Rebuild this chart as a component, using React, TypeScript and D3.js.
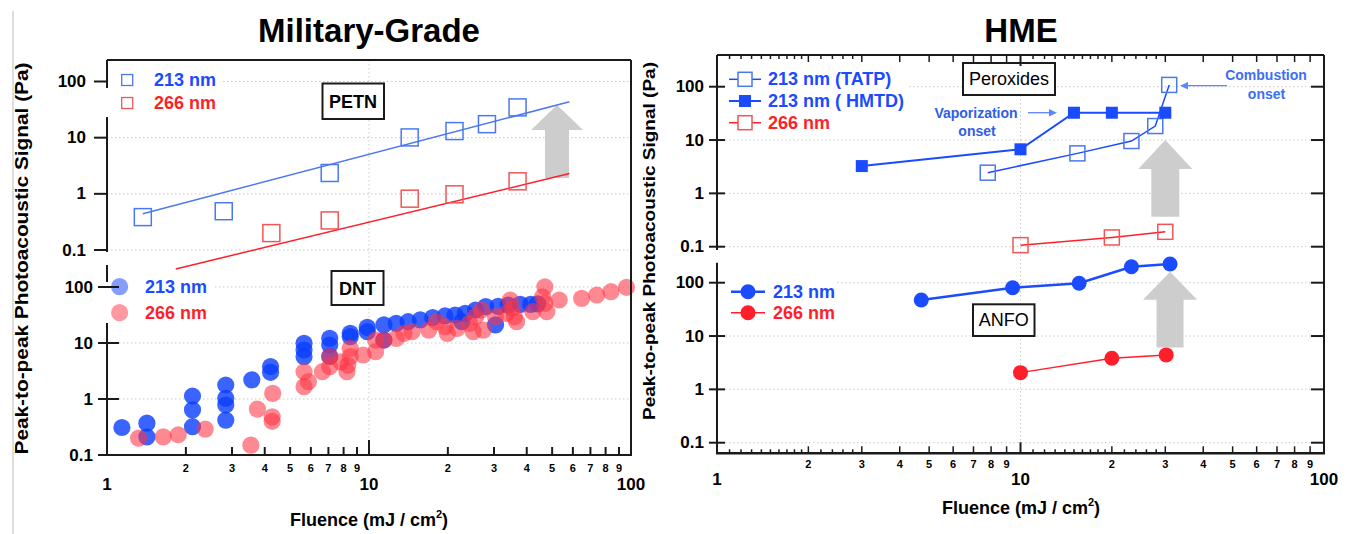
import React from 'react';
import * as d3 from 'd3';

const FONT = '"Liberation Sans", Arial, Helvetica, sans-serif';

const BLUE = '#1a4bff';
const BLUE_SOFT = '#4a78f2';
const RED = '#ff1f2a';
const RED_SOFT = '#f25555';
const GRID = '#c9c9c9';
const AXIS = '#1a1a1a';
const ARROW_GRAY = '#cdcdcd';

// ---------- Military-grade: PETN (open squares) ----------
const petnX213 = [1.37, 2.79, 7.08, 14.3, 21.2, 28.2, 36.9];
const petnY213 = [0.385, 0.49, 2.35, 10.1, 13.1, 17.4, 34.6];
const petnX266 = [4.24, 7.08, 14.3, 21.2, 36.9];
const petnY266 = [0.2, 0.336, 0.82, 0.98, 1.67];
// power-law fit lines, end points [fluence, signal]
const petnFit213: [number, number][] = [[1.37, 0.443], [58.2, 43.6]];
const petnFit266: [number, number][] = [[1.83, 0.046], [58.2, 2.3]];

// ---------- Military-grade: DNT (translucent circles) ----------
const dnt213: [number, number][] = [
  [1.14, 0.31], [1.42, 0.37], [1.42, 0.21], [2.12, 1.13], [2.12, 0.64], [2.12, 0.32],
  [2.84, 1.78], [2.84, 1.03], [2.84, 0.78], [2.84, 0.42], [3.57, 2.2], [4.21, 3.8],
  [4.21, 3.0], [5.65, 9.9], [5.65, 7.5], [5.65, 5.7], [7.08, 12.1], [7.08, 9.2],
  [7.08, 5.8], [8.48, 14.9], [8.48, 13.0], [9.85, 19], [9.85, 15.9], [11.4, 21],
  [11.4, 11.3], [12.7, 22.4], [14.1, 24], [15.7, 25.8], [17.5, 28.3], [19.5, 30.4],
  [21.3, 31.6], [22.6, 24], [23.3, 33.9], [25.5, 38.8], [27.9, 44.6], [30.4, 21],
  [31.1, 45], [34, 47.7], [37.8, 49], [41.4, 49], [44, 50],
];
const dnt266: [number, number][] = [
  [1.32, 0.2], [1.64, 0.21], [1.87, 0.23], [2.37, 0.29], [3.54, 0.15], [3.75, 0.66],
  [4.29, 1.26], [4.27, 0.48], [4.27, 0.4], [5.65, 1.66], [5.87, 2.04], [5.65, 3.07],
  [6.64, 3.07], [7.08, 3.77], [7.08, 5.7], [7.8, 4.6], [8.24, 3.07], [8.3, 4.05],
  [8.48, 8.0], [8.48, 5.7], [9.5, 6.1], [10.6, 7.0], [10.6, 11.3], [11.4, 11.3],
  [12.7, 12.1], [13.6, 14.9], [14.6, 15.9], [16.9, 17], [18.1, 24], [19.5, 19.6],
  [19.9, 14.9], [21.7, 18.3], [24.2, 22.4], [25, 16], [25.5, 29.5], [26.9, 38.8],
  [27.3, 17], [30.4, 29.5], [33.4, 33.9], [34.6, 58.6], [35.2, 41.6], [35.9, 29.5],
  [36.6, 24], [42.2, 36.2], [46.9, 101], [46.0, 67], [46.9, 51], [47.7, 36.2],
  [53.2, 58.6], [64.8, 62.8], [74, 72], [83.9, 82.4], [96.1, 98.8],
];

// ---------- HME: peroxides ----------
const tatpX = [7.8, 15.4, 23.2, 27.8, 30.9];
const tatpY = [2.44, 5.62, 9.58, 18.3, 108];
const hmtdX = [3, 10, 15, 20, 30];
const hmtdY = [3.25, 6.7, 32.5, 32.5, 32.5];
const perox266X = [10, 20, 30];
const perox266Y = [0.107, 0.149, 0.19];

// ---------- HME: ANFO ----------
const anfo213X = [4.71, 9.42, 15.6, 23.2, 31.1];
const anfo213Y = [47.4, 80.6, 97.5, 199, 224];
const anfo266X = [10, 20, 30.2];
const anfo266Y = [2.06, 3.84, 4.43];

// ---------- axis ticks ----------
const decades = [0.1, 1, 10, 100];
const decadeLabels = ['0.1', '1', '10', '100'];
const majorX = [1, 10, 100];
const majorXLabels = ['1', '10', '100'];
const minorX = [2, 3, 4, 5, 6, 7, 8, 9, 20, 30, 40, 50, 60, 70, 80, 90];
const minorXLabels = ['2', '3', '4', '5', '6', '7', '8', '9', '2', '3', '4', '5', '6', '7', '8', '9'];
const fineX = [1.1, 1.2, 1.3, 1.4, 1.5, 1.6, 1.7, 1.8, 1.9, 2.2, 2.4, 2.6, 2.8,
  11, 12, 13, 14, 15, 16, 17, 18, 19, 22, 24, 26, 28];

// gray "increase" arrows: fluence position, tip and tail signal
const petnArrow = { x: 52.2, tip: 38.2, tail: 1.91 };
const peroxArrow = { x: 30.0, tip: 10, tail: 0.365 };
const anfoArrow = { x: 31.1, tip: 161, tail: 6.07 };

function arrowPath(cx: number, yTip: number, yTail: number, headLen: number, headHalf: number, shaftHalf: number) {
  const yb = yTip + headLen;
  return [
    [cx, yTip], [cx + headHalf, yb], [cx + shaftHalf, yb], [cx + shaftHalf, yTail],
    [cx - shaftHalf, yTail], [cx - shaftHalf, yb], [cx - headHalf, yb],
  ].map((p) => p.join(',')).join(' ');
}

function zip(xs: number[], ys: number[]): [number, number][] {
  return xs.map((x, i) => [x, ys[i]]);
}

export default function App() {
  const xL = d3.scaleLog().domain([1, 100]).range([107, 631]);
  const yLT = d3.scaleLog().domain([0.1, 100]).range([250, 81.5]);
  const yLB = d3.scaleLog().domain([0.1, 100]).range([455, 287]);
  const xR = d3.scaleLog().domain([1, 100]).range([717, 1324]);
  const yRT = d3.scaleLog().domain([0.1, 100]).range([246.7, 86.7]);
  const yRB = d3.scaleLog().domain([0.1, 100]).range([442.7, 282.7]);

  const L = { left: 107, right: 631, top: 60, upperEnd: 252, lowerStart: 265, bottom: 455 };
  const R = { left: 717, right: 1324, top: 55, upperEnd: 250, lowerStart: 262.7, bottom: 453.3 };

  const lineLT = d3.line<[number, number]>().x((d) => xL(d[0])).y((d) => yLT(d[1]));
  const lineRT = d3.line<[number, number]>().x((d) => xR(d[0])).y((d) => yRT(d[1]));
  const lineRB = d3.line<[number, number]>().x((d) => xR(d[0])).y((d) => yRB(d[1]));

  const gridStyle = { stroke: GRID, strokeWidth: 1, strokeDasharray: '1.5,2.5' };
  const frame = { stroke: AXIS, strokeWidth: 2, fill: 'none' };

  const sqL = 17; // PETN square size
  const sqR = 15; // open square size (HME)
  const sqF = 12; // filled square size (HMTD)
  const dotR = 8.6; // DNT circle radius

  return (
    <svg width={1355} height={534} style={{ position: 'absolute', left: 0, top: 0, background: '#fff' }} fontFamily={FONT}>
      <rect x={0} y={0} width={1355} height={534} fill="#fff" />
      <line x1={13} y1={11} x2={13} y2={534} stroke="#dedede" strokeWidth={2} />

      {/* ===================== Military-Grade ===================== */}
      <text x={369} y={42} textAnchor="middle" fontSize={33} fontWeight="bold" fill="#000">Military-Grade</text>

      {/* grid */}
      {decades.map((d) => (
        <line key={'glt' + d} x1={L.left} x2={L.right} y1={yLT(d)} y2={yLT(d)} {...gridStyle} />
      ))}
      {decades.slice(1).map((d) => (
        <line key={'glb' + d} x1={L.left} x2={L.right} y1={yLB(d)} y2={yLB(d)} {...gridStyle} />
      ))}
      <line x1={xL(10)} x2={xL(10)} y1={L.top} y2={L.bottom} {...gridStyle} />

      {/* PETN */}
      <polygon points={arrowPath(xL(petnArrow.x), yLT(petnArrow.tip), yLT(petnArrow.tail), 25, 26, 12)} fill={ARROW_GRAY} />
      <path d={lineLT(petnFit213) || ''} stroke={BLUE_SOFT} strokeWidth={1.5} fill="none" />
      <path d={lineLT(petnFit266) || ''} stroke={RED} strokeWidth={1.5} fill="none" />
      {zip(petnX213, petnY213).map((d, i) => (
        <rect key={'p2' + i} x={xL(d[0]) - sqL / 2} y={yLT(d[1]) - sqL / 2} width={sqL} height={sqL}
          fill="none" stroke={BLUE_SOFT} strokeWidth={1.5} />
      ))}
      {zip(petnX266, petnY266).map((d, i) => (
        <rect key={'p6' + i} x={xL(d[0]) - sqL / 2} y={yLT(d[1]) - sqL / 2} width={sqL} height={sqL}
          fill="none" stroke={RED_SOFT} strokeWidth={1.5} />
      ))}

      {/* DNT */}
      {dnt213.map((d, i) => (
        <circle key={'d2' + i} cx={xL(d[0])} cy={yLB(d[1])} r={dotR} fill="#0a3dff" fillOpacity={0.8} />
      ))}
      {dnt266.map((d, i) => (
        <circle key={'d6' + i} cx={xL(d[0])} cy={yLB(d[1])} r={dotR} fill="#ff3344" fillOpacity={0.58} />
      ))}

      {/* legends */}
      <rect x={100} y={88} width={122} height={29} fill="#fff" />
      <rect x={109} y={66} width={113} height={24} fill="#fff" />
      <rect x={121.7} y={74.5} width={11} height={11} fill="none" stroke={BLUE_SOFT} strokeWidth={1.3} />
      <rect x={121.7} y={97.5} width={11} height={11} fill="none" stroke={RED_SOFT} strokeWidth={1.3} />
      <text x={154} y={80} dominantBaseline="central" fontSize={18} fontWeight="bold" fill={BLUE}>213 nm</text>
      <text x={154} y={103} dominantBaseline="central" fontSize={18} fontWeight="bold" fill={RED}>266 nm</text>

      <rect x={100} y={280} width={114} height={43} fill="#fff" />
      <circle cx={119.6} cy={286.7} r={dotR} fill="#0a3dff" fillOpacity={0.5} />
      <circle cx={119.6} cy={312.7} r={dotR} fill="#ff3344" fillOpacity={0.5} />
      <text x={145} y={287} dominantBaseline="central" fontSize={18} fontWeight="bold" fill={BLUE}>213 nm</text>
      <text x={145} y={313} dominantBaseline="central" fontSize={18} fontWeight="bold" fill={RED}>266 nm</text>

      {/* label boxes */}
      <rect x={322.5} y={83.5} width={61.5} height={35.5} fill="#fff" stroke={AXIS} strokeWidth={2} />
      <text x={353} y={101.5} textAnchor="middle" dominantBaseline="central" fontSize={18} fontWeight="bold">PETN</text>
      <rect x={331.5} y={271} width={52} height={34} fill="#fff" stroke={AXIS} strokeWidth={2} />
      <text x={357.5} y={288.5} textAnchor="middle" dominantBaseline="central" fontSize={18} fontWeight="bold">DNT</text>

      {/* frame */}
      <line x1={L.left} x2={L.right} y1={L.top} y2={L.top} {...frame} />
      <line x1={L.right} x2={L.right} y1={L.top} y2={L.bottom} {...frame} />
      <line x1={L.left} x2={L.left} y1={L.top} y2={88} {...frame} />
      <line x1={L.left} x2={L.left} y1={117} y2={L.upperEnd} {...frame} />
      <line x1={L.left} x2={L.left} y1={L.lowerStart} y2={282} {...frame} />
      <line x1={L.left} x2={L.left} y1={323} y2={L.bottom} {...frame} />
      <line x1={L.left - 1} x2={L.right + 1} y1={L.bottom} y2={L.bottom} {...frame} />

      {/* left y ticks */}
      {decades.map((d, i) => (
        <g key={'lyt' + d}>
          <line x1={L.left - 13} x2={L.left} y1={yLT(d)} y2={yLT(d)} stroke={AXIS} strokeWidth={2} />
          <text x={86} y={yLT(d)} textAnchor="end" dominantBaseline="central" fontSize={17} fontWeight="bold">{decadeLabels[i]}</text>
        </g>
      ))}
      {decades.map((d, i) => (
        <g key={'lyb' + d}>
          <line x1={L.left - 9} x2={L.left + 12} y1={yLB(d)} y2={yLB(d)} stroke={AXIS} strokeWidth={2} />
          <text x={93} y={yLB(d)} textAnchor="end" dominantBaseline="central" fontSize={17} fontWeight="bold">{decadeLabels[i]}</text>
        </g>
      ))}

      {/* left x ticks */}
      {minorX.map((v, i) => (
        <g key={'lxm' + v}>
          <line x1={xL(v)} x2={xL(v)} y1={L.bottom - 8} y2={L.bottom} stroke={AXIS} strokeWidth={2} />
          <text x={xL(v)} y={472} textAnchor="middle" fontSize={11} fontWeight="bold">{minorXLabels[i]}</text>
        </g>
      ))}
      <line x1={xL(10)} x2={xL(10)} y1={L.bottom - 15} y2={L.bottom} stroke={AXIS} strokeWidth={2} />
      {majorX.map((v, i) => (
        <text key={'lxM' + v} x={xL(v)} y={490} textAnchor="middle" fontSize={17} fontWeight="bold">{majorXLabels[i]}</text>
      ))}

      <text x={369} y={526} textAnchor="middle" fontSize={18} fontWeight="bold">
        Fluence (mJ / cm<tspan dy={-8} fontSize={11}>2</tspan><tspan dy={8}>)</tspan>
      </text>
      <text transform="translate(28,258.5) rotate(-90)" textAnchor="middle" fontSize={19} fontWeight="bold"
        textLength={392} lengthAdjust="spacingAndGlyphs">Peak-to-peak Photoacoustic Signal (Pa)</text>

      {/* ===================== HME ===================== */}
      <text x={1021} y={42} textAnchor="middle" fontSize={33} fontWeight="bold" fill="#000">HME</text>

      {decades.map((d) => (
        <line key={'grt' + d} x1={R.left} x2={R.right} y1={yRT(d)} y2={yRT(d)} {...gridStyle} />
      ))}
      {decades.map((d) => (
        <line key={'grb' + d} x1={R.left} x2={R.right} y1={yRB(d)} y2={yRB(d)} {...gridStyle} />
      ))}
      <line x1={xR(10)} x2={xR(10)} y1={R.top} y2={R.bottom} {...gridStyle} />

      <polygon points={arrowPath(xR(peroxArrow.x), yRT(peroxArrow.tip), yRT(peroxArrow.tail), 29, 27, 14)} fill={ARROW_GRAY} />
      <polygon points={arrowPath(xR(anfoArrow.x), yRB(anfoArrow.tip), yRB(anfoArrow.tail), 28, 27, 13.5)} fill={ARROW_GRAY} />

      {/* peroxides */}
      <path d={lineRT(zip(hmtdX, hmtdY)) || ''} stroke={BLUE} strokeWidth={2} fill="none" />
      <path d={lineRT(zip(tatpX, tatpY)) || ''} stroke={BLUE} strokeWidth={1.5} fill="none" />
      <path d={lineRT(zip(perox266X, perox266Y)) || ''} stroke={RED} strokeWidth={1.5} fill="none" />
      {zip(tatpX, tatpY).map((d, i) => (
        <rect key={'t' + i} x={xR(d[0]) - sqR / 2} y={yRT(d[1]) - sqR / 2} width={sqR} height={sqR}
          fill="none" stroke={BLUE_SOFT} strokeWidth={1.5} />
      ))}
      {zip(hmtdX, hmtdY).map((d, i) => (
        <rect key={'h' + i} x={xR(d[0]) - sqF / 2} y={yRT(d[1]) - sqF / 2} width={sqF} height={sqF} fill={BLUE} />
      ))}
      {zip(perox266X, perox266Y).map((d, i) => (
        <rect key={'r' + i} x={xR(d[0]) - sqR / 2} y={yRT(d[1]) - sqR / 2} width={sqR} height={sqR}
          fill="none" stroke={RED_SOFT} strokeWidth={1.5} />
      ))}

      {/* ANFO */}
      <path d={lineRB(zip(anfo213X, anfo213Y)) || ''} stroke={BLUE} strokeWidth={2.5} fill="none" />
      <path d={lineRB(zip(anfo266X, anfo266Y)) || ''} stroke={RED} strokeWidth={1.5} fill="none" />
      {zip(anfo213X, anfo213Y).map((d, i) => (
        <circle key={'a2' + i} cx={xR(d[0])} cy={yRB(d[1])} r={7.5} fill={BLUE} />
      ))}
      {zip(anfo266X, anfo266Y).map((d, i) => (
        <circle key={'a6' + i} cx={xR(d[0])} cy={yRB(d[1])} r={7.5} fill={RED} />
      ))}

      {/* annotations */}
      <text x={976} y={113} textAnchor="middle" dominantBaseline="central" fontSize={14} fontWeight="bold" fill="#2f5ee8">Vaporization</text>
      <text x={977} y={131} textAnchor="middle" dominantBaseline="central" fontSize={14} fontWeight="bold" fill="#2f5ee8">onset</text>
      <line x1={1028} x2={1050} y1={112.7} y2={112.7} stroke="#5a86ff" strokeWidth={1.3} />
      <polygon points="1057,112.7 1049,109 1049,116.4" fill="#5a86ff" />
      <text x={1266} y={75} textAnchor="middle" dominantBaseline="central" fontSize={14} fontWeight="bold" fill="#3d6ef5">Combustion</text>
      <text x={1266.5} y={93.5} textAnchor="middle" dominantBaseline="central" fontSize={14} fontWeight="bold" fill="#3d6ef5">onset</text>
      <line x1={1227} x2={1187} y1={85.7} y2={85.7} stroke="#5a86ff" strokeWidth={1.3} />
      <polygon points="1180,85.7 1188,82 1188,89.4" fill="#5a86ff" />

      {/* legends */}
      <rect x={719} y={66} width={189} height={67} fill="#fff" />
      <line x1={729} x2={761} y1={79.3} y2={79.3} stroke={BLUE} strokeWidth={1.5} />
      <rect x={745 - 7} y={79.3 - 7} width={14} height={14} fill="#fff" stroke={BLUE_SOFT} strokeWidth={1.5} />
      <line x1={729} x2={761} y1={101} y2={101} stroke={BLUE} strokeWidth={2} />
      <rect x={745 - 6} y={101 - 6} width={12} height={12} fill={BLUE} />
      <line x1={729} x2={761} y1={122.7} y2={122.7} stroke={RED} strokeWidth={1.5} />
      <rect x={745 - 7} y={122.7 - 7} width={14} height={14} fill="#fff" stroke={RED_SOFT} strokeWidth={1.5} />
      <text x={768} y={79.3} dominantBaseline="central" fontSize={18} fontWeight="bold" fill={BLUE}>213 nm (TATP)</text>
      <text x={768} y={101} dominantBaseline="central" fontSize={18} fontWeight="bold" fill={BLUE}>213 nm ( HMTD)</text>
      <text x={768} y={122.7} dominantBaseline="central" fontSize={18} fontWeight="bold" fill={RED}>266 nm</text>

      <rect x={719} y={270} width={117} height={55} fill="#fff" />
      <line x1={731} x2={765} y1={291.7} y2={291.7} stroke={BLUE} strokeWidth={2.5} />
      <circle cx={748} cy={291.7} r={7.5} fill={BLUE} />
      <line x1={731} x2={765} y1={312.7} y2={312.7} stroke={RED} strokeWidth={1.5} />
      <circle cx={748} cy={312.7} r={7.5} fill={RED} />
      <text x={773} y={291.7} dominantBaseline="central" fontSize={18} fontWeight="bold" fill={BLUE}>213 nm</text>
      <text x={773} y={312.7} dominantBaseline="central" fontSize={18} fontWeight="bold" fill={RED}>266 nm</text>

      <rect x={963} y={63} width={92} height={32} fill="#fff" stroke={AXIS} strokeWidth={2} />
      <text x={1009} y={79} textAnchor="middle" dominantBaseline="central" fontSize={18}>Peroxides</text>
      <rect x={973} y={304.3} width={61.5} height={31.7} fill="#fff" stroke={AXIS} strokeWidth={2} />
      <text x={1003.7} y={320.2} textAnchor="middle" dominantBaseline="central" fontSize={18}>ANFO</text>

      {/* frame */}
      <line x1={R.left} x2={R.right} y1={R.top} y2={R.top} {...frame} />
      <line x1={R.right} x2={R.right} y1={R.top} y2={R.bottom} {...frame} />
      <line x1={R.left} x2={R.left} y1={R.top} y2={R.upperEnd} {...frame} />
      <line x1={R.left} x2={R.left} y1={R.lowerStart} y2={R.bottom} {...frame} />
      <line x1={R.left - 1} x2={R.right + 1} y1={R.bottom} y2={R.bottom} stroke={AXIS} strokeWidth={2.5} />

      {/* y ticks (both sides) */}
      {decades.map((d, i) => (
        <g key={'ryt' + d}>
          <line x1={R.left - 8} x2={R.left + 8} y1={yRT(d)} y2={yRT(d)} stroke={AXIS} strokeWidth={2} />
          <line x1={R.right - 13} x2={R.right} y1={yRT(d)} y2={yRT(d)} stroke={AXIS} strokeWidth={2} />
          <text x={704} y={yRT(d)} textAnchor="end" dominantBaseline="central" fontSize={17} fontWeight="bold">{decadeLabels[i]}</text>
        </g>
      ))}
      {decades.map((d, i) => (
        <g key={'ryb' + d}>
          <line x1={R.left - 8} x2={R.left + 8} y1={yRB(d)} y2={yRB(d)} stroke={AXIS} strokeWidth={2} />
          <line x1={R.right - 13} x2={R.right} y1={yRB(d)} y2={yRB(d)} stroke={AXIS} strokeWidth={2} />
          <text x={704} y={yRB(d)} textAnchor="end" dominantBaseline="central" fontSize={17} fontWeight="bold">{decadeLabels[i]}</text>
        </g>
      ))}

      {/* x ticks, bottom and mirrored top */}
      {fineX.map((v) => (
        <g key={'rxf' + v}>
          <line x1={xR(v)} x2={xR(v)} y1={R.bottom - 4} y2={R.bottom} stroke={AXIS} strokeWidth={1.5} />
          <line x1={xR(v)} x2={xR(v)} y1={R.top} y2={R.top + 4} stroke={AXIS} strokeWidth={1.5} />
        </g>
      ))}
      {minorX.map((v, i) => (
        <g key={'rxm' + v}>
          <line x1={xR(v)} x2={xR(v)} y1={R.bottom - 7} y2={R.bottom} stroke={AXIS} strokeWidth={1.5} />
          <line x1={xR(v)} x2={xR(v)} y1={R.top} y2={R.top + 7} stroke={AXIS} strokeWidth={1.5} />
          <text x={xR(v)} y={468} textAnchor="middle" fontSize={11} fontWeight="bold">{minorXLabels[i]}</text>
        </g>
      ))}
      <line x1={xR(10)} x2={xR(10)} y1={R.bottom - 11} y2={R.bottom} stroke={AXIS} strokeWidth={2} />
      <line x1={xR(10)} x2={xR(10)} y1={R.top} y2={R.top + 11} stroke={AXIS} strokeWidth={2} />
      {majorX.map((v, i) => (
        <text key={'rxM' + v} x={xR(v)} y={485} textAnchor="middle" fontSize={17} fontWeight="bold">{majorXLabels[i]}</text>
      ))}

      <text x={1021} y={514} textAnchor="middle" fontSize={18} fontWeight="bold">
        Fluence (mJ / cm<tspan dy={-8} fontSize={11}>2</tspan><tspan dy={8}>)</tspan>
      </text>
      <text transform="translate(655,241) rotate(-90)" textAnchor="middle" fontSize={17} fontWeight="bold"
        textLength={358} lengthAdjust="spacingAndGlyphs">Peak-to-peak Photoacoustic Signal (Pa)</text>
    </svg>
  );
}
